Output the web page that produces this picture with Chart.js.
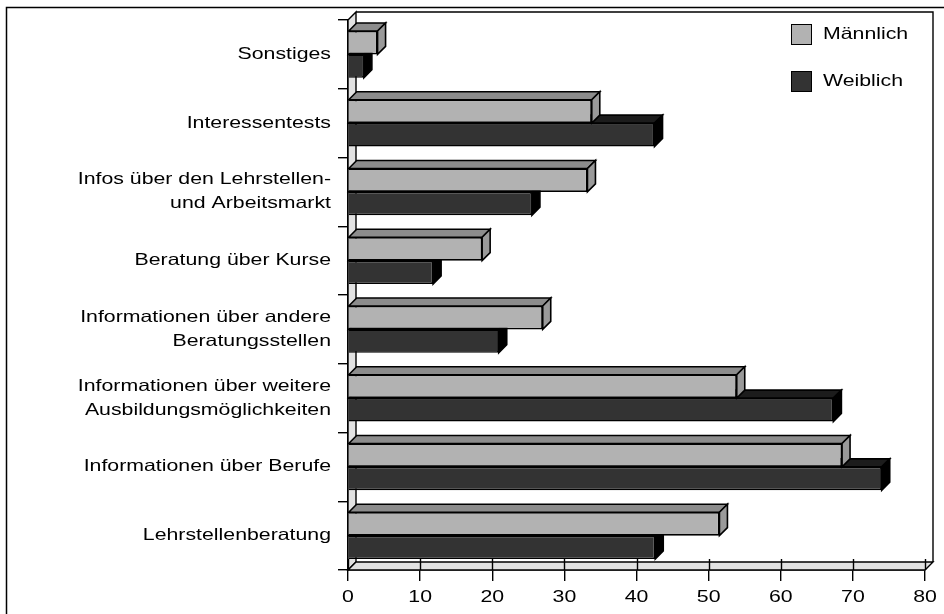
<!DOCTYPE html>
<html>
<head>
<meta charset="utf-8">
<script src="https://cdn.jsdelivr.net/npm/chart.js@4.4.1/dist/chart.umd.min.js"></script>
<style>
  html, body { margin: 0; padding: 0; background: #fff; }
  #wrap { width: 944px; height: 614px; position: relative; }
</style>
</head>
<body>
<div id="wrap"><canvas id="chart"></canvas></div>
<script>
// --- DADOS ---
const categories = [
    ['Sonstiges'],
    ['Interessentests'],
    ['Infos über den Lehrstellen-', 'und Arbeitsmarkt'],
    ['Beratung über Kurse'],
    ['Informationen über andere', 'Beratungsstellen'],
    ['Informationen über weitere', 'Ausbildungsmöglichkeiten'],
    ['Informationen über Berufe'],
    ['Lehrstellenberatung']
];
const maennlich = [4.1, 33.8, 33.2, 18.6, 27.0, 53.9, 68.5, 51.5];
const weiblich = [2.2, 42.5, 25.5, 11.8, 20.9, 67.3, 74.0, 42.6];
const xTicks = [0, 10, 20, 30, 40, 50, 60, 70, 80];
const seriesNames = ['Männlich', 'Weiblich'];

// --- ESTILO ---
const FONT = '16.5px "Liberation Sans", Arial, sans-serif';
const STRETCH = 1.29;   // o texto original é mais largo
const DEPTH = 8;        // profundidade do efeito 3D
const colors = {
    m: { front: '#b2b2b2', top: '#8c8c8c', side: '#9a9a9a' },
    w: { front: '#333333', top: '#1c1c1c', side: '#000000' },
    wall: '#e2e2e2'
};

Chart.defaults.font.family = '"Liberation Sans", Arial, sans-serif';

function wideText(ctx, text, x, y, align) {
    ctx.save();
    ctx.translate(x, y);
    ctx.scale(STRETCH, 1);
    ctx.font = FONT;
    ctx.fillStyle = '#000';
    ctx.textAlign = align;
    ctx.textBaseline = 'middle';
    ctx.fillText(text, 0, 0);
    ctx.restore();
}

function poly(ctx, pts, fill) {
    ctx.beginPath();
    ctx.moveTo(pts[0][0], pts[0][1]);
    for (let i = 1; i < pts.length; i++) ctx.lineTo(pts[i][0], pts[i][1]);
    ctx.closePath();
    if (fill) { ctx.fillStyle = fill; ctx.fill(); }
    ctx.stroke();
}

// Paredes, chão e faces laterais das barras
const depthPlugin = {
    id: 'depth',
    beforeDatasetsDraw(chart) {
        const { ctx, chartArea: a } = chart;
        const d = DEPTH;
        ctx.save();
        ctx.strokeStyle = '#000';
        ctx.lineWidth = 1.4;
        ctx.lineJoin = 'miter';

        // parede de fundo (só contorno)
        ctx.beginPath();
        ctx.moveTo(a.left + d, a.top - d);
        ctx.lineTo(a.right + d, a.top - d);
        ctx.lineTo(a.right + d, a.bottom - d);
        ctx.stroke();

        // parede esquerda
        poly(ctx, [[a.left, a.top], [a.left + d, a.top - d], [a.left + d, a.bottom - d], [a.left, a.bottom]], colors.wall);
        // chão
        poly(ctx, [[a.left, a.bottom], [a.left + d, a.bottom - d], [a.right + d, a.bottom - d], [a.right, a.bottom]], colors.wall);

        // marcas do eixo x sobre o chão
        xTicks.forEach(v => {
            const x = Math.round(chart.scales.x.getPixelForValue(v)) + 0.5;
            ctx.beginPath();
            ctx.moveTo(x, a.bottom - d - 3);
            ctx.lineTo(x, a.bottom);
            ctx.stroke();
        });

        // faces 3D: feminino primeiro, masculino por cima
        ctx.lineWidth = 1.6;
        const metas = [chart.getDatasetMeta(1), chart.getDatasetMeta(0)];
        const cols = [colors.w, colors.m];
        for (let i = 0; i < categories.length; i++) {
            metas.forEach((meta, k) => {
                const p = meta.data[i].getProps(['x', 'y', 'base', 'height'], true);
                const top = p.y - p.height / 2, bot = p.y + p.height / 2;
                const x0 = p.base, x1 = p.x;
                poly(ctx, [[x0, top], [x0 + d, top - d], [x1 + d, top - d], [x1, top]], cols[k].top);
                poly(ctx, [[x1, top], [x1 + d, top - d], [x1 + d, bot - d], [x1, bot]], cols[k].side);
            });
        }
        ctx.restore();
    },
    afterDraw(chart) {
        const { ctx, chartArea: a } = chart;
        ctx.save();

        // rótulos das categorias
        const yScale = chart.scales.y;
        categories.forEach((lines, i) => {
            const cy = yScale.getPixelForValue(i);
            const lh = 24;
            lines.forEach((t, j) => {
                wideText(ctx, t, a.left - 17, cy + (j - (lines.length - 1) / 2) * lh, 'right');
            });
        });

        // rótulos do eixo x
        xTicks.forEach(v => {
            wideText(ctx, String(v), chart.scales.x.getPixelForValue(v), 597, 'center');
        });

        // legenda
        const legendCols = [colors.m.front, colors.w.front];
        seriesNames.forEach((name, k) => {
            const y = 24 + k * 47;
            ctx.fillStyle = legendCols[k];
            ctx.fillRect(791, y, 21, 21);
            ctx.strokeStyle = '#000';
            ctx.lineWidth = 1;
            ctx.strokeRect(791.5, y + 0.5, 20, 20);
            wideText(ctx, name, 823, y + 10.5, 'left');
        });

        // moldura
        ctx.strokeStyle = '#000';
        ctx.lineWidth = 1.5;
        ctx.beginPath();
        ctx.moveTo(6.5, 620);
        ctx.lineTo(6.5, 7.5);
        ctx.lineTo(950, 7.5);
        ctx.stroke();
        ctx.restore();
    }
};

new Chart(document.getElementById('chart'), {
    type: 'bar',
    data: {
        labels: categories,
        datasets: [
            { label: seriesNames[0], data: maennlich, backgroundColor: colors.m.front, borderColor: '#000', borderWidth: 1.6 },
            { label: seriesNames[1], data: weiblich, backgroundColor: colors.w.front, borderColor: '#000', borderWidth: 1.6 }
        ]
    },
    options: {
        indexAxis: 'y',
        responsive: true,
        maintainAspectRatio: false,
        animation: false,
        layout: { padding: { top: 20, right: 19, left: 0, bottom: 0 } },
        datasets: { bar: { categoryPercentage: 0.68, barPercentage: 1 } },
        plugins: { legend: { display: false }, tooltip: { enabled: false } },
        scales: {
            x: {
                min: 0, max: 80,
                ticks: { stepSize: 10, display: false },
                grid: { drawOnChartArea: false, drawTicks: true, tickLength: 11, color: '#000', lineWidth: 1.4 },
                border: { display: true, color: '#000', width: 1.4 },
                afterFit: s => { s.height = 44; }
            },
            y: {
                offset: true,
                ticks: { display: false },
                grid: { offset: true, drawOnChartArea: false, drawTicks: true, tickLength: 10, color: '#000', lineWidth: 1.4 },
                border: { display: true, color: '#000', width: 1.4 },
                afterFit: s => { s.width = 348; }
            }
        }
    },
    plugins: [depthPlugin]
});
</script>
</body>
</html>
